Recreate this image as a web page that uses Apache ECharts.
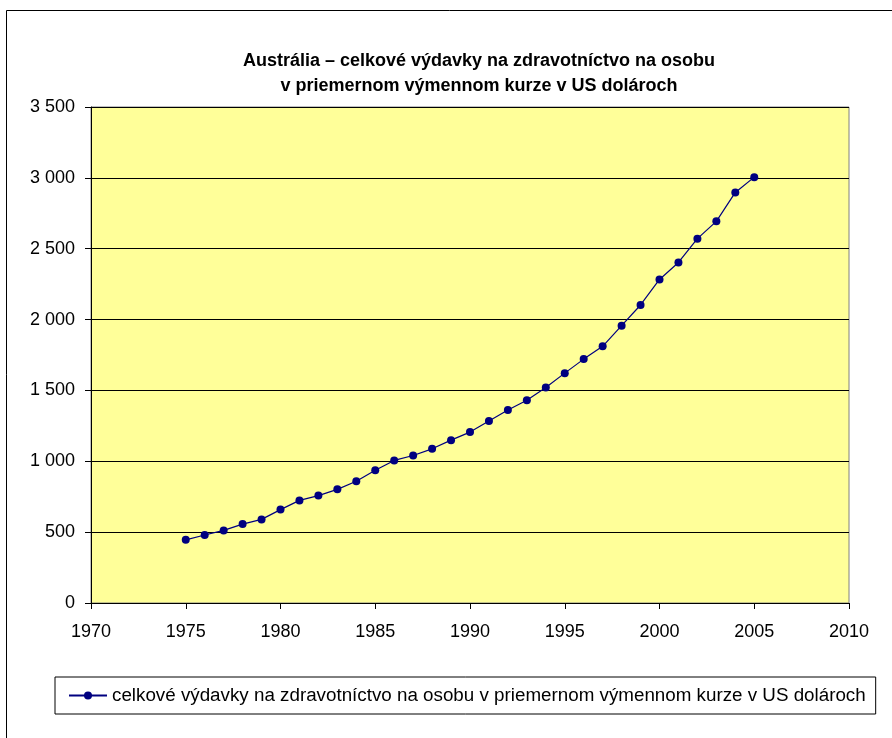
<!DOCTYPE html>
<html>
<head>
<meta charset="utf-8">
<script src="https://cdn.jsdelivr.net/npm/echarts@6/dist/echarts.min.js"></script>
<style>
  html, body { margin: 0; padding: 0; background: #fff; }
  #chart { width: 892px; height: 738px; }
</style>
</head>
<body>
<div id="chart"></div>
<script>
// roky a hodnoty (USD na osobu)
const years = [1975, 1976, 1977, 1978, 1979, 1980, 1981, 1982, 1983, 1984,
  1985, 1986, 1987, 1988, 1989, 1990, 1991, 1992, 1993, 1994,
  1995, 1996, 1997, 1998, 1999, 2000, 2001, 2002, 2003, 2004, 2005]
const spending = [446, 480, 512, 557, 590, 659, 724, 758, 802, 859,
  937, 1006, 1041, 1088, 1149, 1206, 1284, 1362, 1431, 1520,
  1622, 1721, 1811, 1957, 2103, 2283, 2403, 2571, 2693, 2897, 3005]
const seriesName = 'celkové výdavky na zdravotníctvo na osobu v priemernom výmennom kurze v US dolároch'
const titleText = 'Austrália – celkové výdavky na zdravotníctvo na osobu\nv priemernom výmennom kurze v US dolároch'

const font = 'Arial, "Liberation Sans", sans-serif'

const chart = echarts.init(document.getElementById('chart'))

const option = {
  backgroundColor: '#ffffff',
  animation: false,
  textStyle: { fontFamily: font },
  graphic: [
    {
      type: 'rect',
      shape: { x: 6.5, y: 10.5, width: 1000, height: 1000 },
      style: { fill: 'none', stroke: '#000', lineWidth: 1 },
      silent: true
    }
  ],
  title: {
    text: titleText,
    left: 474,
    textAlign: 'center',
    top: 44,
    textStyle: {
      fontFamily: font,
      fontSize: 18,
      fontWeight: 'bold',
      color: '#000',
      lineHeight: 25
    }
  },
  legend: {
    left: 55,
    top: 677,
    padding: [9, 10, 9, 13],
    borderColor: '#000',
    borderWidth: 1,
    itemWidth: 38,
    itemHeight: 10,
    itemGap: 0,
    textStyle: { fontFamily: font, fontSize: 18.8, color: '#000' },
    data: [seriesName]
  },
  grid: {
    left: 91,
    right: 43,
    top: 107,
    bottom: 135,
    show: true,
    backgroundColor: '#FFFF99',
    borderColor: '#808080',
    borderWidth: 1
  },
  xAxis: {
    type: 'value',
    min: 1970,
    max: 2010,
    interval: 5,
    axisLine: { show: true, onZero: false, lineStyle: { color: '#000', width: 1 } },
    axisTick: { show: true, inside: false, length: 6, lineStyle: { color: '#000' } },
    axisLabel: {
      margin: 20,
      fontSize: 18,
      color: '#000',
      fontFamily: font,
      formatter: v => String(v)
    },
    splitLine: { show: false }
  },
  yAxis: {
    type: 'value',
    min: 0,
    max: 3500,
    interval: 500,
    axisLine: { show: true, lineStyle: { color: '#000', width: 1 } },
    axisTick: { show: true, inside: false, length: 6, lineStyle: { color: '#000' } },
    axisLabel: {
      margin: 16,
      fontSize: 18,
      color: '#000',
      fontFamily: font,
      formatter: v => String(v).replace(/\B(?=(\d{3})+(?!\d))/g, ' ')
    },
    splitLine: { show: true, lineStyle: { color: '#000', width: 1 } }
  },
  series: [
    {
      name: seriesName,
      type: 'line',
      data: years.map((y, i) => [y, spending[i]]),
      symbol: 'circle',
      symbolSize: 8,
      showAllSymbol: true,
      lineStyle: { color: '#000080', width: 1.2 },
      itemStyle: { color: '#000080' }
    }
  ]
}

chart.setOption(option)
</script>
</body>
</html>
